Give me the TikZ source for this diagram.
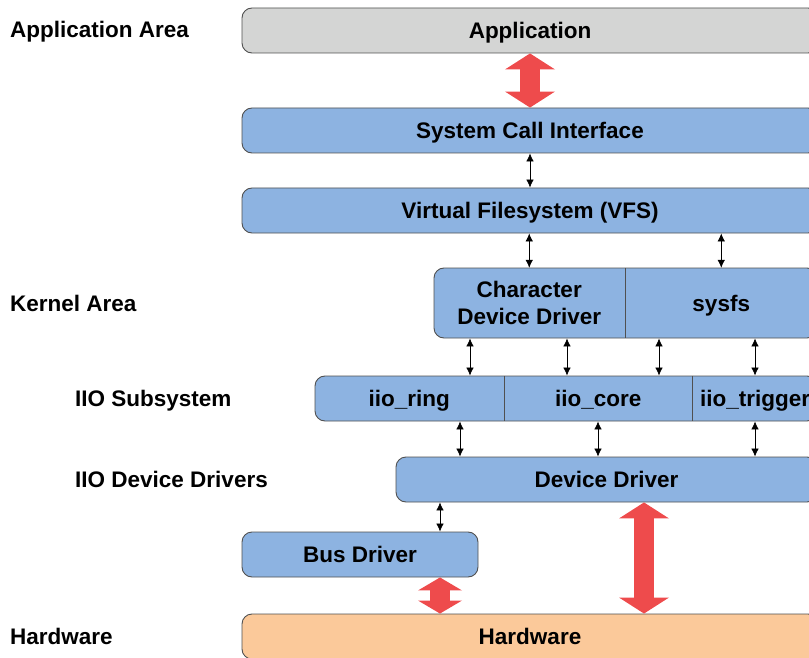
\documentclass[tikz,border=0pt]{standalone}
\usepackage{fontspec}
\setmainfont{Liberation Sans}
\usetikzlibrary{arrows.meta}

\definecolor{appgray}{HTML}{D4D5D4}
\definecolor{kernblue}{HTML}{8DB3E1}
\definecolor{hwpeach}{HTML}{FBC99A}
\definecolor{flowred}{HTML}{EE4B4C}
\definecolor{edgegray}{HTML}{505050}

\tikzstyle{label} = [font=\fontsize{22.5}{27}\selectfont\bfseries]
\tikzstyle{oneline} = [label, text height=16pt, text depth=0pt]
\tikzstyle{layer} = [draw=edgegray, line width=0.9pt, rounded corners=10pt, minimum height=45pt, inner sep=0pt, oneline]
\tikzstyle{cell} = [inner sep=0pt, label]
\tikzstyle{area} = [anchor=west, inner sep=0pt, oneline]
\tikzstyle{sep} = [draw=edgegray, line width=0.9pt]
\tikzstyle{link} = [draw, line width=0.7pt, {Latex[length=8pt,width=7.5pt]}-{Latex[length=8pt,width=7.5pt]}]
\tikzstyle{flow} = [draw=flowred, line width=20pt, {Triangle[length=16pt,width=50pt,line width=0pt]}-{Triangle[length=16pt,width=50pt,line width=0pt]}]
\tikzstyle{smallflow} = [draw=flowred, line width=20pt, {Triangle[length=13pt,width=44pt,line width=0pt]}-{Triangle[length=13pt,width=44pt,line width=0pt]}]

\begin{document}
\begin{tikzpicture}[x=1pt, y=-1pt]
                  \useasboundingbox (0,0) rectangle (809,658);
                  \clip (0,0) rectangle (809,658);
                  % First the area names on the left
                  \node[area] (lapp) at (10,30) {Application Area};
                  \node[area] (lkern) at (10,303) {Kernel Area};
                  \node[area] (liio) at (75,398) {IIO Subsystem};
                  \node[area] (ldrv) at (75,479) {IIO Device Drivers};
                  \node[area] (lhw) at (10,636) {Hardware};
                  % Then the layers
                  \node[layer, fill=appgray, minimum width=576pt] (app) at (530,30.5) {Application};
                  \node[layer, fill=kernblue, minimum width=576pt] (sci) at (530,130.5) {System Call Interface};
                  \node[layer, fill=kernblue, minimum width=576pt] (vfs) at (530,210.5) {Virtual Filesystem (VFS)};
                  \node[layer, fill=kernblue, minimum width=383pt, minimum height=70pt] (kern) at (625.5,303) {};
                  \node[cell, anchor=west, minimum width=191pt, minimum height=70pt, align=center] (chr) at (kern.west) {Character\\Device Driver};
                  \node[cell, oneline, anchor=east, minimum width=192pt, minimum height=70pt] (sysfs) at (kern.east) {sysfs};
                  \path[sep] (chr.north east) -- (chr.south east);
                  \node[layer, fill=kernblue, minimum width=502pt] (iio) at (566,398.5) {};
                  \node[cell, oneline, anchor=west, minimum width=189pt, minimum height=45pt] (ring) at (iio.west) {iio\_ring};
                  \node[cell, oneline, anchor=west, minimum width=188pt, minimum height=45pt] (core) at (ring.east) {iio\_core};
                  \node[cell, oneline, anchor=west, minimum width=125pt, minimum height=45pt] (trig) at (core.east) {iio\_trigger};
                  \path[sep] (ring.north east) -- (ring.south east);
                  \path[sep] (core.north east) -- (core.south east);
                  \node[layer, fill=kernblue, minimum width=421pt] (drv) at (606.5,479.5) {Device Driver};
                  \node[layer, fill=kernblue, minimum width=236pt] (bus) at (360,554.5) {Bus Driver};
                  \node[layer, fill=hwpeach, minimum width=576pt] (hw) at (530,636.5) {Hardware};
                  % Connect the layers
                  \path[flow] (app.south) -- (sci.north);
                  \path[link] (sci.south) -- (vfs.north);
                  \foreach \dest in {chr,sysfs}
                  \path[link] (vfs.south -| \dest.north) -- (\dest.north);
                  \foreach \x in {470,567,659,755}
                  \path[link] (\x,0 |- kern.south) -- (\x,0 |- iio.north);
                  \foreach \x in {460,598,755}
                  \path[link] (\x,0 |- iio.south) -- (\x,0 |- drv.north);
                  \path[link] (440,0 |- drv.south) -- (440,0 |- bus.north);
                  \path[smallflow] (440,0 |- bus.south) -- (440,0 |- hw.north);
                  \path[flow] (644,0 |- drv.south) -- (644,0 |- hw.north);
            \end{tikzpicture}
\end{document}
